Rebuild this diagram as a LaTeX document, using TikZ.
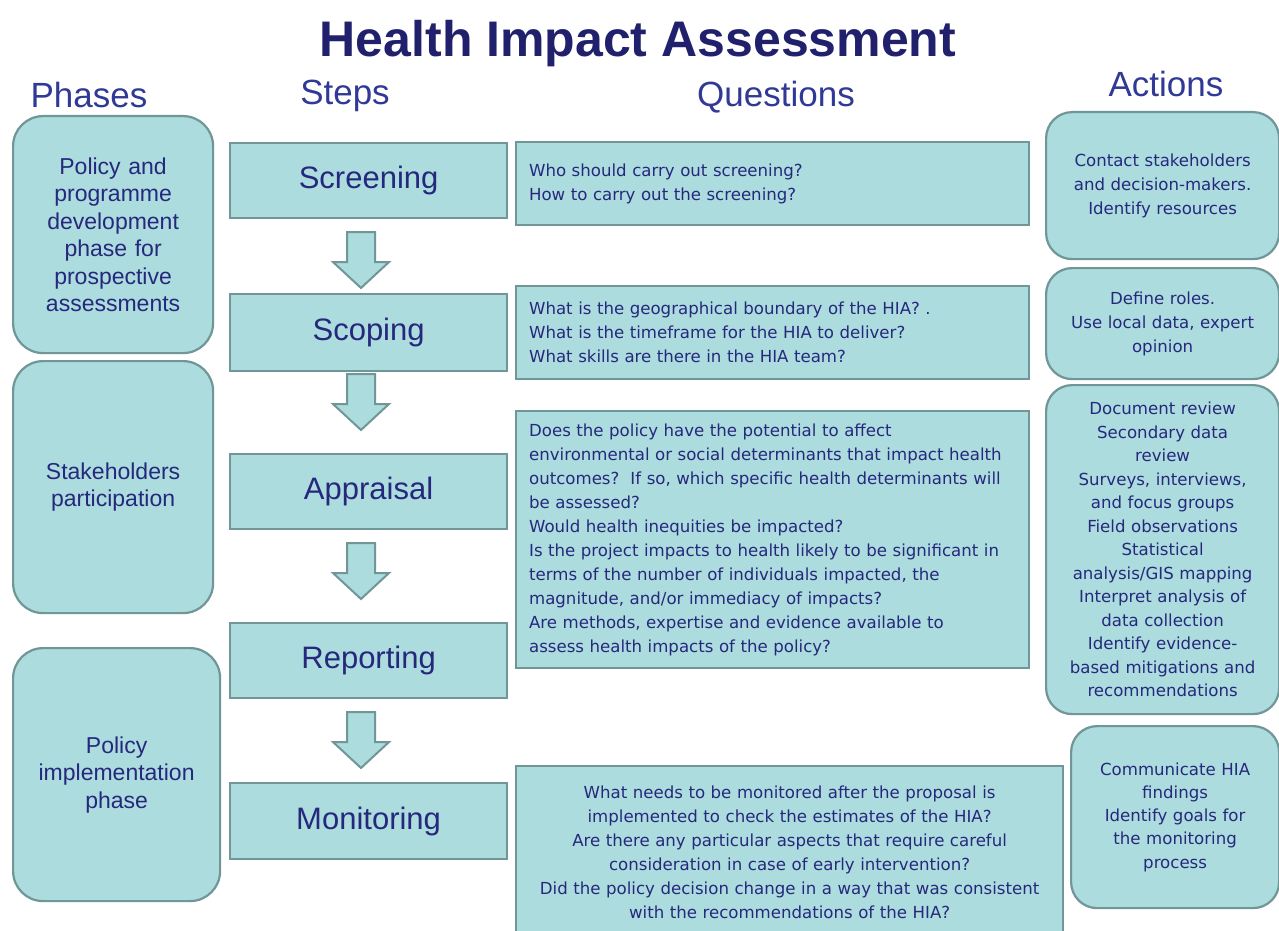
\documentclass[tikz,border=0pt]{standalone}
\usepackage{fontspec}
\setmainfont{Liberation Sans}
\newfontfamily\qfont{DejaVu Sans}
\usetikzlibrary{calc}
\definecolor{boxfill}{RGB}{172,220,221}
\definecolor{boxline}{RGB}{112,150,152}
\definecolor{navy}{RGB}{38,40,125}
\definecolor{headblue}{RGB}{48,58,150}
\definecolor{titlecol}{RGB}{32,32,108}
\begin{document}
\begin{tikzpicture}[x=1pt,y=-1pt,
  box/.style={draw=boxline, fill=boxfill, line width=2.2pt, anchor=north west, text=navy},
  phasebox/.style={box, rounded corners=30pt, align=center, text width=190pt, inner xsep=5pt,
     font=\fontsize{23}{27.5}\selectfont},
  stepbox/.style={box, minimum width=277pt, minimum height=75pt, font=\fontsize{31}{36}\selectfont},
  qbox/.style={box, inner xsep=13pt, align=left, font=\qfont\fontsize{16.6}{24}\selectfont},
  actbox/.style={box, rounded corners=26pt, align=center, inner xsep=4pt, font=\qfont\fontsize{16.6}{24}\selectfont},
  header/.style={anchor=base, text=headblue, font=\fontsize{35}{40}\selectfont},
  blockarrow/.style={draw=boxline, fill=boxfill, line width=2pt, line join=miter}
]
\useasboundingbox (0,0) rectangle (1279,931);
\fill[white] (0,0) rectangle (1279,931);

% title
\node[anchor=base, text=titlecol, font=\fontsize{50}{60}\selectfont\bfseries] (title) at (638,57) {Health Impact Assessment};

% headers
\node[header] (hphases) at (89,108) {Phases};
\node[header] (hsteps) at (345,105) {Steps};
\node[header] (hquest) at (776,107) {Questions};
\node[header] (hact) at (1166,97) {Actions};

% phases
\node[phasebox, minimum height=237pt] (p1) at (12,115) {Policy and\\programme\\development\\phase for\\prospective\\assessments};
\node[phasebox, minimum height=252pt] (p2) at (12,360) {Stakeholders\\participation};
\node[phasebox, text width=197pt, minimum height=253pt] (p3) at (12,647) {Policy\\implementation\\phase};

% steps
\node[stepbox] (s1) at (229,142) {Screening};
\node[stepbox, minimum height=77pt] (s2) at (229,293) {Scoping};
\node[stepbox] (s3) at (229,453) {Appraisal};
\node[stepbox] (s4) at (229,622) {Reporting};
\node[stepbox, minimum height=76pt] (s5) at (229,782) {Monitoring};

% block arrows between steps
\foreach \a/\top in {s1/232, s2/374, s3/543, s4/712}{
  \draw[blockarrow] (347,\top) -- (375,\top) -- (375,\top+30) -- (389,\top+30) -- (361,\top+56)
     -- (333,\top+30) -- (347,\top+30) -- cycle;
}

% questions
\node[qbox, text width=487pt, minimum height=83pt] (q1) at (515,141) {Who should carry out screening?\\How to carry out the screening?};
\node[qbox, text width=487pt, minimum height=93pt] (q2) at (515,285) {What is the geographical boundary of the HIA? .\\What is the timeframe for the HIA to deliver?\\What skills are there in the HIA team?};
\node[qbox, text width=487pt, minimum height=257pt] (q3) at (515,410) {Does the policy have the potential to affect\\environmental or social determinants that impact health\\outcomes?\ \ If so, which specific health determinants will\\be assessed?\\Would health inequities be impacted?\\Is the project impacts to health likely to be significant in\\terms of the number of individuals impacted, the\\magnitude, and/or immediacy of impacts?\\Are methods, expertise and evidence available to\\assess health impacts of the policy?};
\node[qbox, align=center, text width=521pt, minimum height=173pt] (q4) at (515,765) {What needs to be monitored after the proposal is\\implemented to check the estimates of the HIA?\\Are there any particular aspects that require careful\\consideration in case of early intervention?\\Did the policy decision change in a way that was consistent\\with the recommendations of the HIA?};

% actions
\node[actbox, text width=225pt, minimum height=147pt] (a1) at (1045,111) {Contact stakeholders\\and decision-makers.\\Identify resources};
\node[actbox, text width=225pt, minimum height=111pt] (a2) at (1045,267) {Define roles.\\Use local data, expert\\opinion};
\node[actbox, text width=225pt, minimum height=329pt, font=\qfont\fontsize{16.6}{23.5}\selectfont] (a3) at (1045,384) {Document review\\Secondary data\\review\\Surveys, interviews,\\and focus groups\\Field observations\\Statistical\\analysis/GIS mapping\\Interpret analysis of\\data collection\\Identify evidence-\\based mitigations and\\recommendations};
\node[actbox, text width=200pt, minimum height=182pt, font=\qfont\fontsize{16.6}{23.3}\selectfont] (a4) at (1070,725) {Communicate HIA\\findings\\Identify goals for\\the monitoring\\process};
\end{tikzpicture}
\end{document}
